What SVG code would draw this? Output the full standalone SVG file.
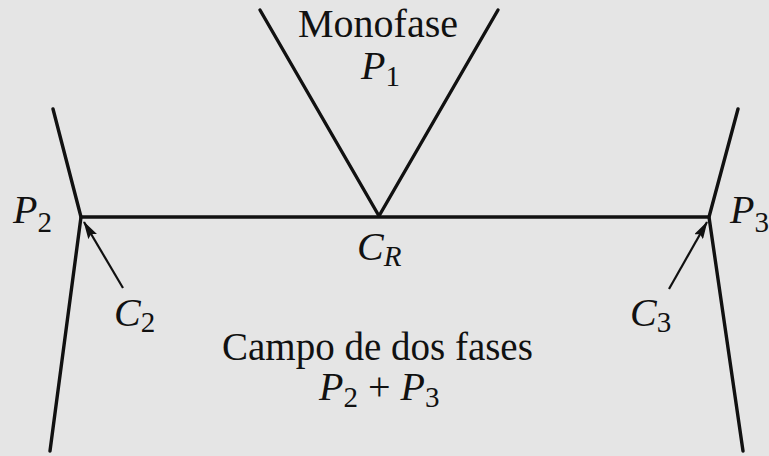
<svg xmlns="http://www.w3.org/2000/svg" width="769" height="456" viewBox="0 0 769 456">
<defs>
<style>
.ln{stroke:#111;stroke-width:3.4;fill:none;stroke-linecap:round;stroke-linejoin:round}
.ar{stroke:#111;stroke-width:2.2;fill:none}
text{font-family:"Liberation Serif","Times New Roman",serif;fill:#111}
.lab{font-size:40px}
.it{font-style:italic}
.sub{font-size:29px}
</style>
<marker id="ah2" viewBox="0 0 18 10" refX="17" refY="5" markerWidth="18" markerHeight="10" markerUnits="userSpaceOnUse" orient="auto">
<path d="M0,0 L18,5 L0,10 L3,5 Z" fill="#111"/>
</marker>
</defs>
<rect width="769" height="456" fill="#e5e5e5"/>
<g id="connectors">
<polyline class="ln" points="53,109 81,217 50,451"/>
<polyline class="ln" points="738,109 709,217 743,451"/>
<line class="ln" x1="81" y1="217" x2="709" y2="217"/>
<polyline class="ln" points="260,10 379,216 498,10"/>
<line class="ar" x1="123" y1="288" x2="84" y2="222" marker-end="url(#ah2)"/>
<line class="ar" x1="669" y1="289" x2="707" y2="222" marker-end="url(#ah2)"/>
</g>
<g id="monofase">
<text class="lab" x="378" y="37" text-anchor="middle">Monofase</text>
<text class="lab" x="361" y="79"><tspan class="it">P</tspan><tspan class="sub" dy="7">1</tspan></text>
</g>
<g id="p2">
<text class="lab" x="13" y="223"><tspan class="it">P</tspan><tspan class="sub" dy="9">2</tspan></text>
</g>
<g id="p3">
<text class="lab" x="730" y="223"><tspan class="it">P</tspan><tspan class="sub" dy="9">3</tspan></text>
</g>
<g id="cr">
<text class="lab" x="357" y="260"><tspan class="it">C</tspan><tspan class="sub it" dy="6">R</tspan></text>
</g>
<g id="c2">
<text class="lab" x="114" y="326"><tspan class="it">C</tspan><tspan class="sub" dy="6">2</tspan></text>
</g>
<g id="c3">
<text class="lab" x="630" y="326"><tspan class="it">C</tspan><tspan class="sub" dy="6">3</tspan></text>
</g>
<g id="campo">
<text class="lab" x="222" y="360" style="font-size:39px">Campo de dos fases</text>
<text class="lab" x="319" y="400"><tspan class="it">P</tspan><tspan class="sub" dy="7">2</tspan><tspan dy="-7"> + </tspan><tspan class="it">P</tspan><tspan class="sub" dy="7">3</tspan></text>
</g>
</svg>
